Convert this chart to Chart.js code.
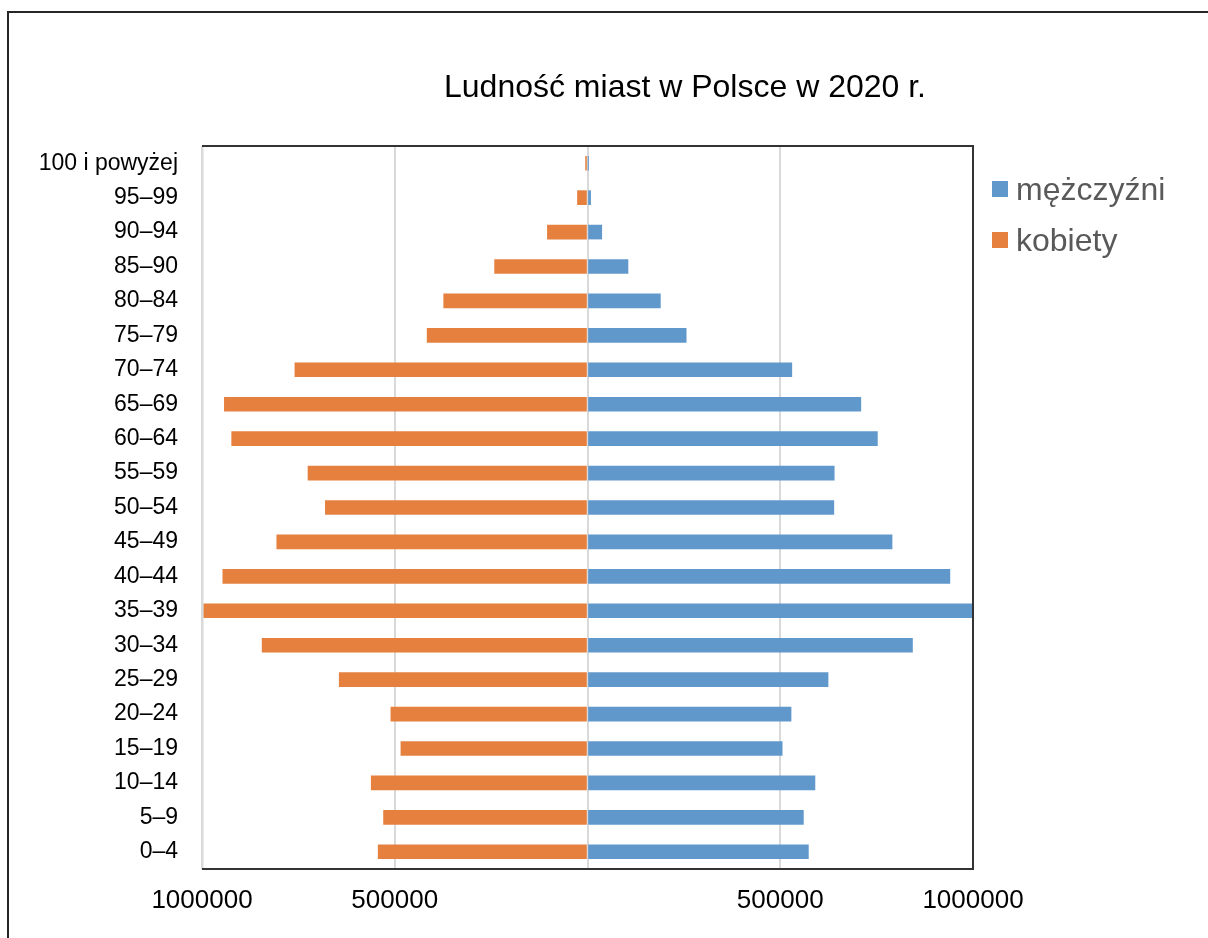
<!DOCTYPE html>
<html lang="pl">
<head>
<meta charset="utf-8">
<title>Ludność miast w Polsce w 2020 r.</title>
<script src="https://cdn.jsdelivr.net/npm/chart.js@4/dist/chart.umd.min.js"></script>
<style>
  html, body { margin: 0; padding: 0; background: #fff; overflow: hidden; }
  #wrap { position: relative; width: 1208px; height: 938px; }
  #frame {
    position: absolute; left: 7px; top: 11px; width: 1400px; height: 1100px;
    border-left: 2.5px solid #262626; border-top: 2px solid #262626;
    box-sizing: border-box; pointer-events: none;
  }
  canvas { position: absolute; left: 0; top: 0; }
</style>
</head>
<body>
<div id="wrap">
  <canvas id="chart" width="1208" height="938"></canvas>
  <div id="frame"></div>
</div>
<script>
// Age groups, youngest first (the y axis is reversed so 0–4 sits at the bottom)
const ageGroups = [
  '0–4', '5–9', '10–14', '15–19', '20–24', '25–29', '30–34', '35–39',
  '40–44', '45–49', '50–54', '55–59', '60–64', '65–69', '70–74',
  '75–79', '80–84', '85–90', '90–94', '95–99', '100 i powyżej'
];

// Urban population by sex (persons)
const men = [
  573000, 560000, 590000, 505000, 528000, 624000, 843000, 999000,
  940000, 790000, 639000, 640000, 752000, 709000, 530000,
  256000, 189000, 105000, 37000, 8000, 1500
];
const women = [
  543000, 529000, 561000, 484000, 510000, 644000, 844000, 996000,
  946000, 806000, 680000, 725000, 923000, 942000, 759000,
  416000, 373000, 241000, 104000, 26000, 5000
];

const seriesNames = ['mężczyźni', 'kobiety'];
const seriesColors = ['#6198CB', '#E5803F'];
const titleText = 'Ludność miast w Polsce w 2020 r.';

const FONT = '"Liberation Sans", Arial, sans-serif';

// Plot frame, title and legend drawn on top of the bars
const decorations = {
  id: 'decorations',
  afterDatasetsDraw(chart) {
    const { ctx, chartArea: a } = chart;
    ctx.save();
    ctx.lineWidth = 2;
    ctx.strokeStyle = '#D9D9D9';
    ctx.beginPath();
    ctx.moveTo(a.left + 0.5, a.top);
    ctx.lineTo(a.left + 0.5, a.bottom);
    ctx.stroke();
    ctx.strokeStyle = '#333333';
    ctx.beginPath();
    ctx.moveTo(a.left, a.top);
    ctx.lineTo(a.right, a.top);
    ctx.lineTo(a.right, a.bottom);
    ctx.lineTo(a.left, a.bottom);
    ctx.stroke();

    ctx.fillStyle = '#000';
    ctx.font = '32px ' + FONT;
    ctx.textAlign = 'center';
    ctx.textBaseline = 'alphabetic';
    ctx.fillText(titleText, 685, 97);

    ctx.font = '32px ' + FONT;
    ctx.textAlign = 'left';
    chart.data.datasets.forEach((ds, i) => {
      const y = 181 + i * 51;
      ctx.fillStyle = ds.backgroundColor;
      ctx.fillRect(992, y, 16, 16);
      ctx.fillStyle = '#595959';
      ctx.fillText(ds.label, 1016, y + 19);
    });
    ctx.restore();
  }
};

new Chart(document.getElementById('chart'), {
  type: 'bar',
  data: {
    labels: ageGroups,
    datasets: [
      {
        label: seriesNames[0],
        data: men,
        backgroundColor: seriesColors[0],
        barThickness: 14
      },
      {
        label: seriesNames[1],
        data: women.map(v => -v),
        backgroundColor: seriesColors[1],
        barThickness: 14
      }
    ]
  },
  options: {
    responsive: false,
    animation: false,
    indexAxis: 'y',
    layout: { padding: { top: 146, right: 235, bottom: 0, left: 0 } },
    plugins: {
      legend: { display: false },
      title: { display: false },
      tooltip: { enabled: false }
    },
    scales: {
      x: {
        stacked: true,
        min: -1000000,
        max: 1000000,
        afterFit: s => { s.height = 69; },
        border: { display: false },
        grid: { color: '#D9D9D9', lineWidth: 2, drawTicks: false },
        ticks: {
          stepSize: 500000,
          autoSkip: false,
          maxRotation: 0,
          padding: 16,
          color: '#000',
          font: { family: FONT, size: 26 },
          callback: v => (v === 0 ? '' : String(Math.abs(v)))
        }
      },
      y: {
        stacked: true,
        reverse: true,
        afterFit: s => { s.width = 202; },
        border: { display: false },
        grid: { display: false, drawTicks: false },
        ticks: {
          autoSkip: false,
          padding: 24,
          color: '#000',
          font: { family: FONT, size: 23 }
        }
      }
    }
  },
  plugins: [decorations]
});
</script>
</body>
</html>
